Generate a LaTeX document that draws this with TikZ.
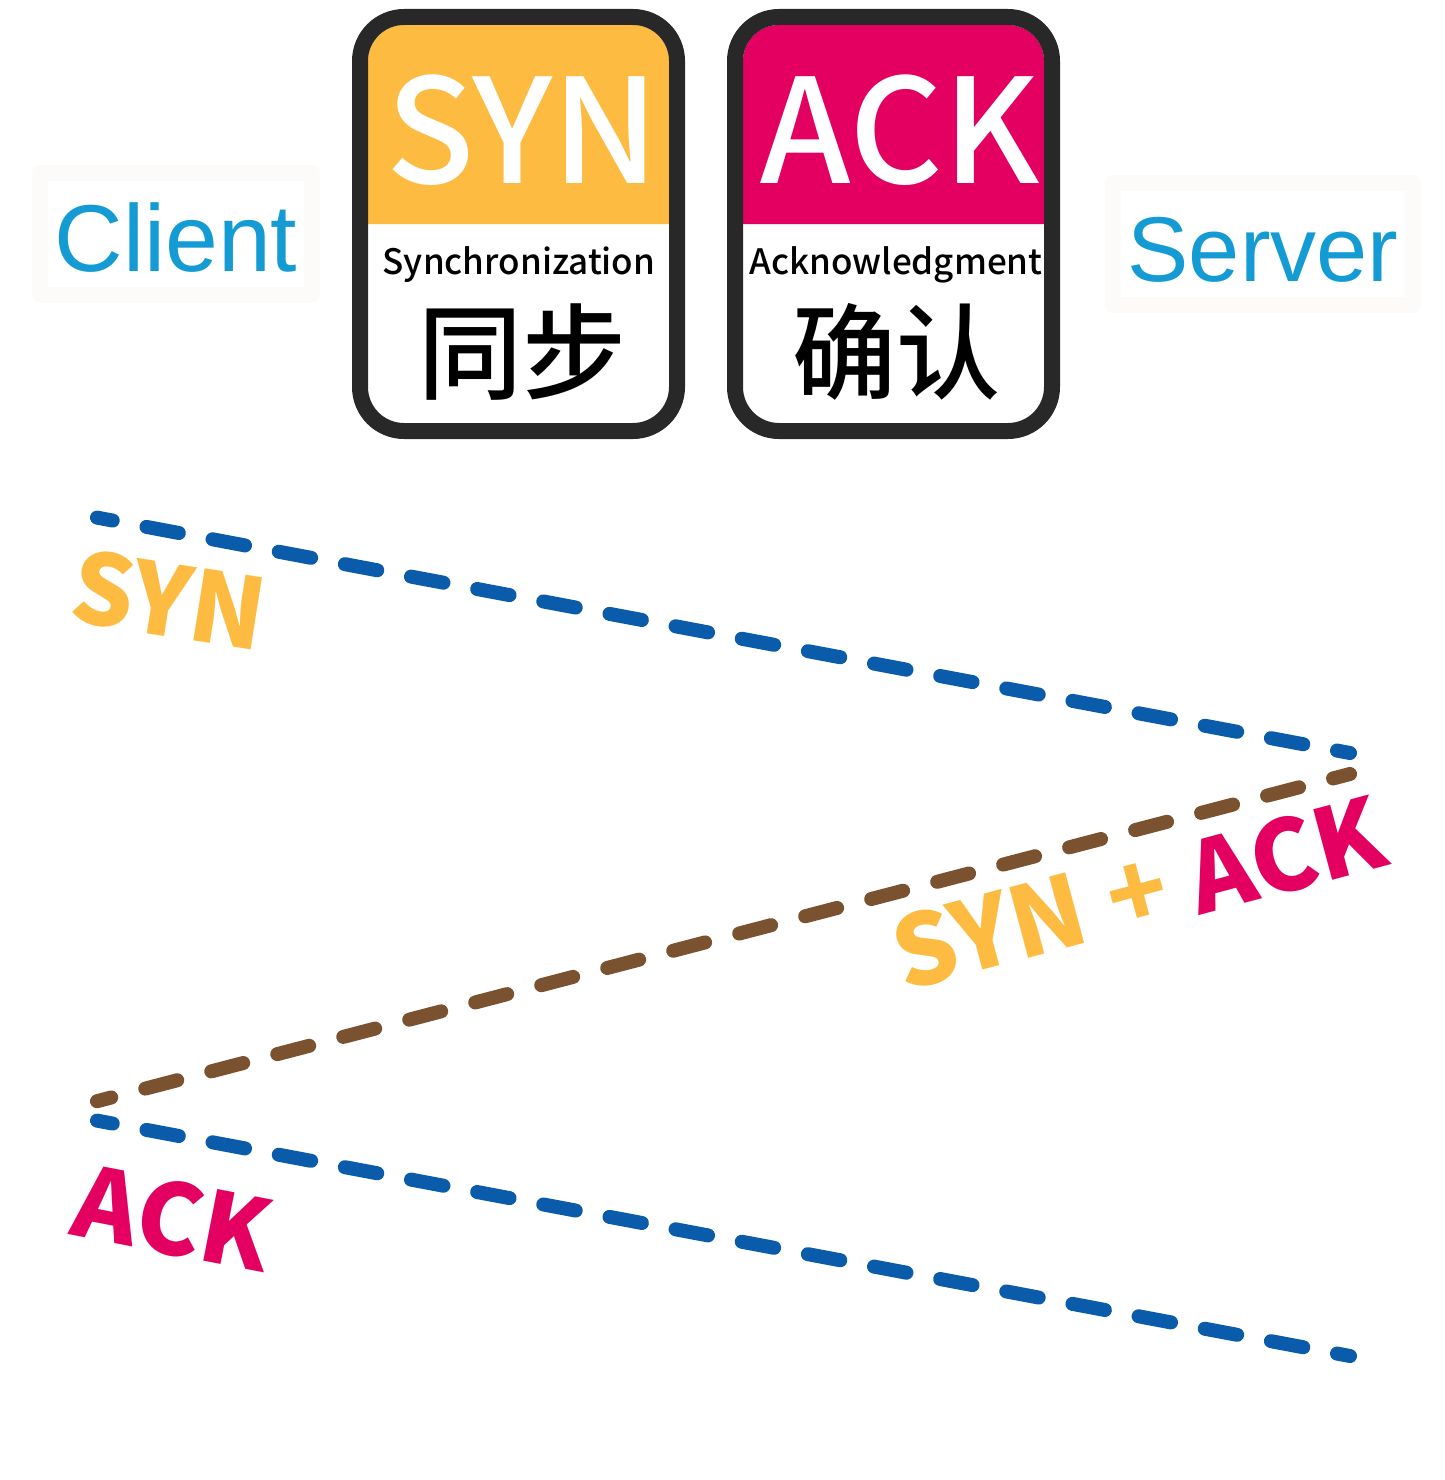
\documentclass[tikz,border=0pt]{standalone}
\usepackage{fontspec}
\setmainfont{Noto Sans CJK SC}
\newfontfamily\cardfont{Noto Sans CJK SC Medium}
\newfontfamily\sansfont{Liberation Sans}
\definecolor{synyellow}{HTML}{FDBB42}
\definecolor{ackred}{HTML}{E30061}
\definecolor{cardline}{HTML}{282828}
\definecolor{pathblue}{HTML}{0A5CAB}
\definecolor{pathbrown}{HTML}{7A5230}
\definecolor{hostblue}{HTML}{159BD3}
\definecolor{hostframe}{HTML}{FCFBF9}
\tikzset{
	card/.style={draw=cardline, line width=16pt, rounded corners=44pt},
	bigtext/.style={inner sep=0pt, anchor=base, white, font=\cardfont\fontsize{145}{150}\selectfont},
	wordtext/.style={inner sep=0pt, anchor=base, black, font=\cardfont\fontsize{35}{39}\selectfont},
	cjktext/.style={inner sep=0pt, anchor=base, black, font=\cardfont\fontsize{104}{108}\selectfont},
	hostbox/.style={draw=hostframe, line width=16pt, inner sep=0pt, text=hostblue, text height=75pt, text depth=0pt},
	flow/.style={line width=14pt, line cap=round, dash pattern=on 33pt off 34.3pt, dash phase=17pt},
	tag/.style={inner sep=0pt, font=\bfseries\fontsize{98}{102}\selectfont}
}
\begin{document}
\begin{tikzpicture}[x=1pt, y=-1pt, line join=round]
	\useasboundingbox (0,0) rectangle (1444,1480);

	% cards
	\fill[synyellow] (368,224) [rounded corners=36pt] -- (368,25) -- (669,25) [sharp corners] -- (669,224) -- cycle;
	\fill[ackred] (743,224) [rounded corners=36pt] -- (743,25) -- (1044,25) [sharp corners] -- (1044,224) -- cycle;
	\draw[card] (360,17) rectangle (677,431);
	\draw[card] (735,17) rectangle (1052,431);
	\node[bigtext] (synbig) at (523,183) {SYN};
	\node[bigtext] (ackbig) at (900,183) {ACK};
	\node[wordtext] (synword) at (519,274) {Synchronization};
	\node[wordtext] (ackword) at (896,274) {Acknowledgment};
	\node[cjktext] (syncjk) at (522,391) {同步};
	\node[cjktext] (ackcjk) at (896,391) {确认};

	% client and server
	\node[hostbox, font=\sansfont\fontsize{95}{100}\selectfont, minimum width=272pt, minimum height=122pt] (client) at (176,234) {Client};
	\node[hostbox, font=\sansfont\fontsize{92}{100}\selectfont, minimum width=300pt, minimum height=122pt] (server) at (1263,244) {Server};

	% packets
	\coordinate (C1) at (97,517.6);
	\coordinate (S1) at (1350,753);
	\coordinate (S2) at (1350,774);
	\coordinate (C2) at (97,1101.2);
	\coordinate (C3) at (97,1120.6);
	\coordinate (S3) at (1350,1356);
	\draw[flow, pathblue] (C1)--(S1);
	\draw[flow, pathbrown, dash pattern=on 33pt off 35.2pt, dash phase=15.5pt] (S2)--(C2);
	\draw[flow, pathblue] (C3)--(S3);

	\node[tag, synyellow, rotate=-9] (syntag) at (169,600) {SYN};
	\node[tag, ackred, rotate=-11] (acktag) at (173,1218) {ACK};
	\node[tag, synyellow, rotate=15] (synback) at (989,931) {SYN};
	\node[tag, synyellow, rotate=15] (plus) at (1138,896) {+};
	\node[tag, ackred, rotate=15] (ackback) at (1286,855) {ACK};
\end{tikzpicture}
\end{document}
